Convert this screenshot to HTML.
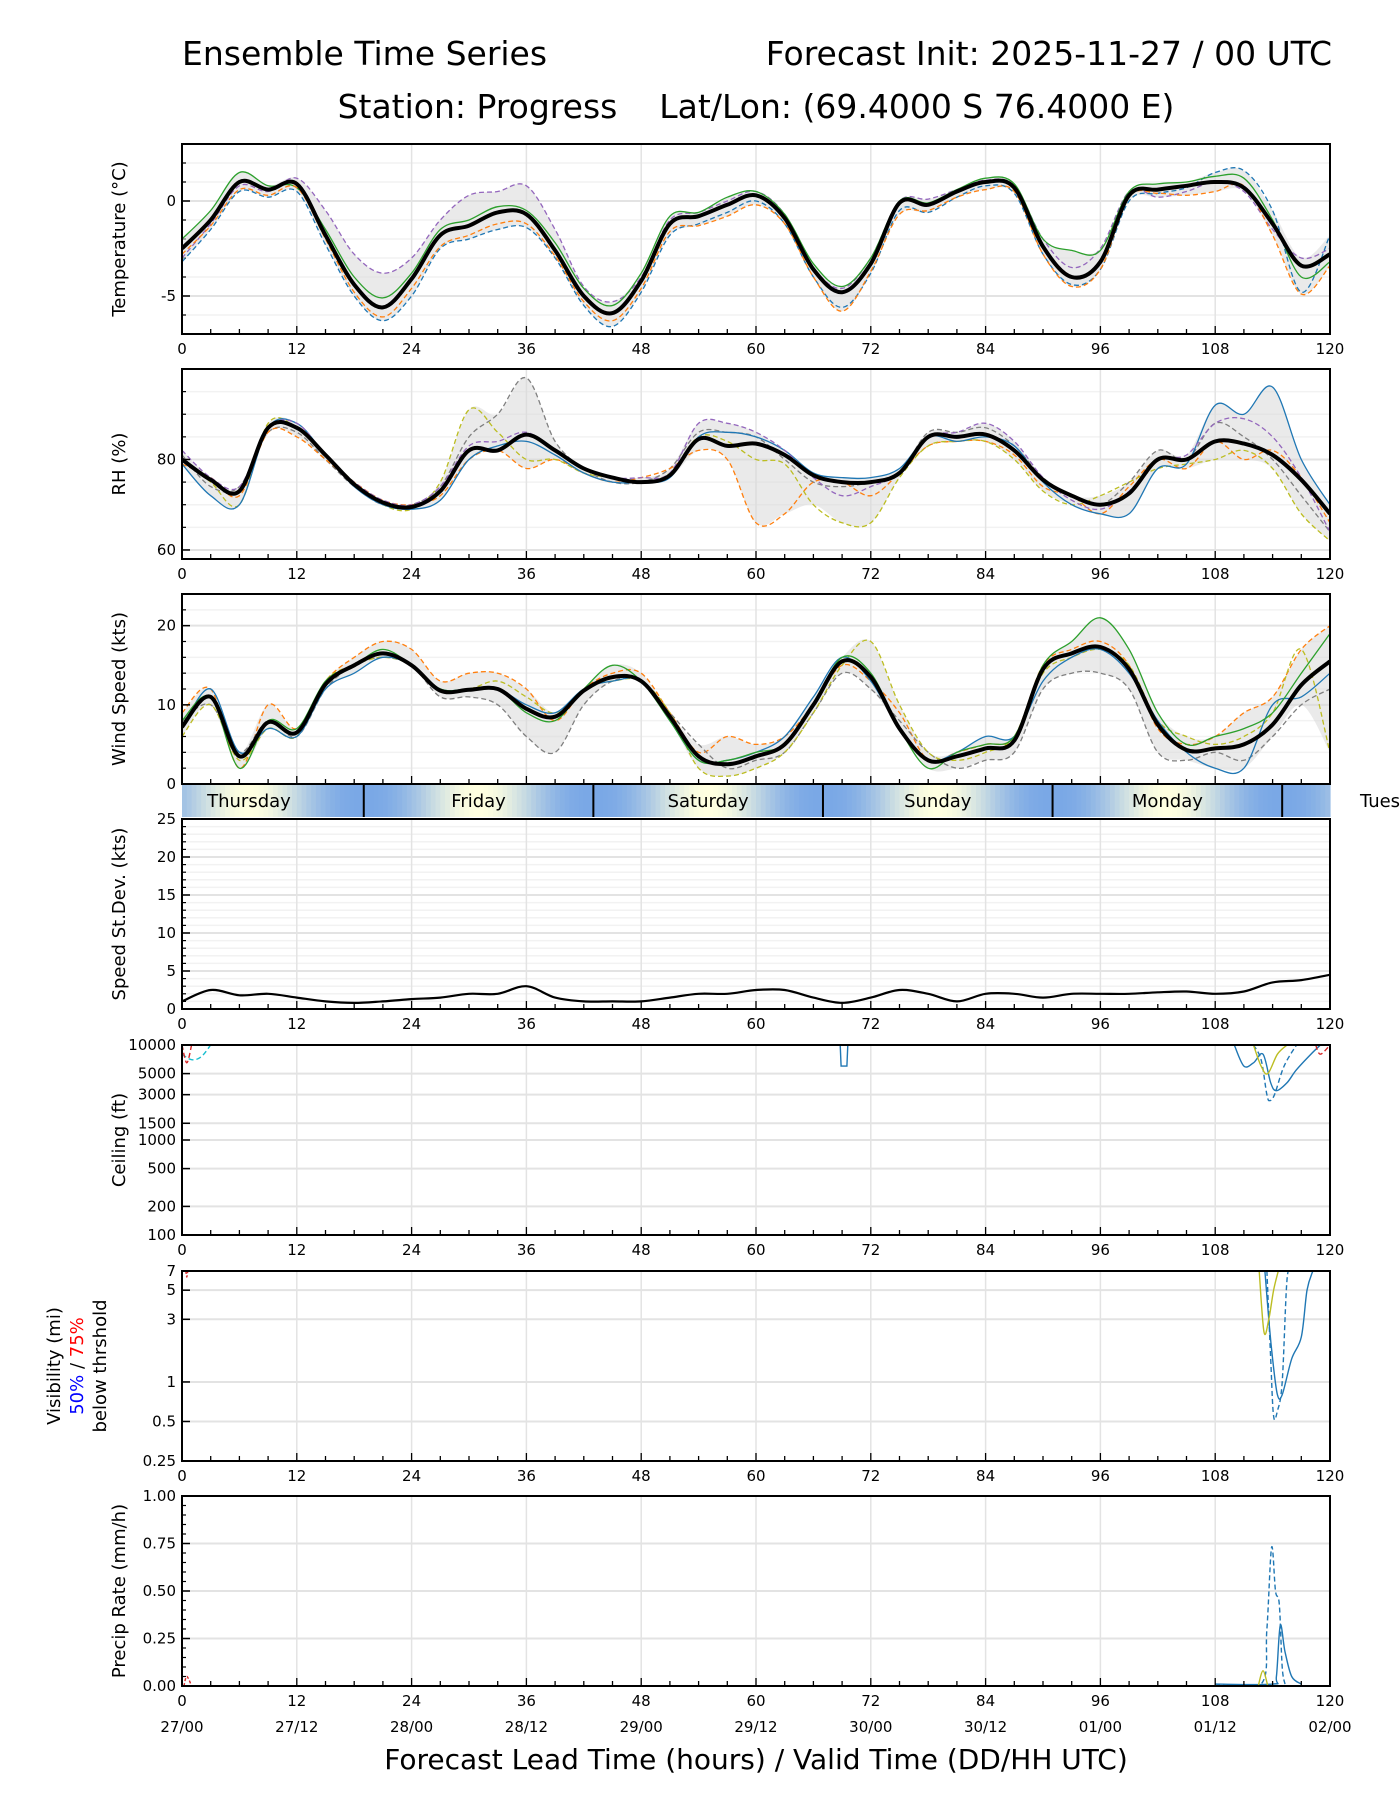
<!DOCTYPE html>
<html><head><meta charset="utf-8">
<style>
body{margin:0;background:#fff;}
svg{display:block;font-family:"DejaVu Sans","Liberation Sans",sans-serif;}
</style></head>
<body>
<svg id="fig" width="1400" height="1800" viewBox="0 0 1400 1800" xmlns="http://www.w3.org/2000/svg">
<rect x="0" y="0" width="1400" height="1800" fill="#fff"/>
<text x="182" y="65" font-size="33">Ensemble Time Series</text>
<text x="1332" y="65" font-size="33" text-anchor="end">Forecast Init: 2025-11-27 / 00 UTC</text>
<text x="756" y="118" font-size="33" text-anchor="middle" xml:space="preserve">Station: Progress    Lat/Lon: (69.4000 S 76.4000 E)</text>
<g id="plots"></g>
<text x="756" y="1769" font-size="28" text-anchor="middle">Forecast Lead Time (hours) / Valid Time (DD/HH UTC)</text>
</svg>
<script>
// ---- data ----
const hours3 = [0,3,6,9,12,15,18,21,24,27,30,33,36,39,42,45,48,51,54,57,60,63,66,69,72,75,78,81,84,87,90,93,96,99,102,105,108,111,114,117,120];
const tempMean = [-2.5,-1.0,1.0,0.6,0.9,-1.8,-4.4,-5.6,-4.1,-1.8,-1.3,-0.6,-0.7,-2.6,-5.0,-5.9,-4.2,-1.2,-0.8,-0.2,0.3,-0.9,-3.6,-4.8,-3.3,-0.1,-0.2,0.5,1.0,0.7,-2.4,-4.0,-3.2,0.3,0.6,0.8,1.0,0.7,-1.2,-3.4,-2.8];
const tempA = [-3.0,-1.2,0.8,0.5,1.2,-0.5,-2.8,-3.8,-3.0,-1.0,0.3,0.5,0.8,-1.5,-4.5,-5.3,-4.0,-1.0,-0.6,0.0,0.5,-0.7,-3.5,-4.6,-3.0,0.0,0.1,0.6,1.1,0.8,-2.0,-3.5,-2.5,0.5,0.2,0.5,1.0,0.5,-1.5,-3.0,-2.5];
const tempB = [-3.2,-1.5,0.5,0.2,0.5,-2.3,-5.0,-6.3,-5.0,-2.5,-2.0,-1.5,-1.4,-3.0,-5.5,-6.6,-4.8,-1.8,-1.2,-0.6,0.0,-1.2,-4.0,-5.6,-3.8,-0.5,-0.6,0.2,0.8,0.4,-2.8,-4.4,-3.6,0.0,0.4,0.7,1.5,1.6,-0.5,-4.8,-1.8];
const tempC = [-2.0,-0.5,1.5,0.8,0.7,-1.5,-4.0,-5.1,-3.8,-1.5,-1.0,-0.3,-0.5,-2.2,-4.6,-5.5,-3.8,-0.8,-0.6,0.2,0.5,-0.7,-3.3,-4.5,-3.0,0.0,-0.1,0.6,1.2,0.9,-2.0,-2.6,-2.6,0.5,0.9,1.0,1.3,1.2,-1.0,-4.0,-3.2];
const tempD = [-2.8,-1.3,0.6,0.3,0.7,-2.0,-4.8,-6.1,-4.6,-2.4,-1.8,-1.2,-1.2,-2.9,-5.3,-6.3,-4.6,-1.6,-1.3,-0.8,-0.2,-1.2,-4.0,-5.8,-3.7,-0.7,-0.5,0.2,0.6,0.5,-2.8,-4.5,-3.6,0.2,0.4,0.3,0.5,0.8,-1.8,-4.9,-3.4];
const rhMean = [80,75.5,73,87,87,81,74.5,70.5,69.5,73,82,82,85.5,82,78,76,75,76.5,84.5,83,83.5,81,76.5,75,75,77,85,85,85.5,82,75.5,72,70,72.5,80,80,84,83.5,81,75.5,68];
const rhA = [81,74,74,86,86,80,74,70,70,74,85,90,98,84,78,75,75,78,86,86,85,80,75,74,75,77,86,86,87,83,76,72,70,75,82,80,88,85,80,72,64];
const rhB = [79,76,72,86,85,80,75,71,70,72,80,82,78,80,77,75,76,78,82,80,66,68,75,75,72,77,83,84,84,81,74,72,68,74,80,78,84,80,82,76,66];
const rhC = [80,75,70,88,87,81,75,70,69,75,91,86,80,80,77,76,75,77,85,84,80,79,70,66,66,76,83,84,84,80,73,70,72,75,78,79,80,82,78,68,62];
const rhD = [79,72,70,87,88,81,74,70,69,71,80,83,84,81,77,75,75,76,85,86,85,82,77,76,76,78,85,84,85,83,75,70,68,68,78,79,92,90,96,80,70];
const rhE = [82,76,74,87,88,81,75,71,70,74,83,84,86,82,78,76,76,77,88,88,86,82,76,72,74,77,85,86,88,84,76,71,69,73,80,81,88,89,85,76,64];
const windMean = [7.2,11.0,3.5,7.8,6.5,12.6,15.0,16.5,15.0,11.8,11.9,12.0,9.5,8.5,11.8,13.5,13.0,8.5,3.5,2.5,3.5,5.0,10.0,15.5,13.5,7.0,3.0,3.5,4.5,5.5,14.5,16.5,17.3,14.5,7.5,4.3,4.5,5.0,7.5,12.5,15.5];
const windA = [9,12,2,10,7,13,16,18,17,13,14,14,12,8,12,14,14,9,4,6,5,6,10,15,13,9,3,4,5,6,15,17,18,15,7,5,6,9,11,17,20];
const windB = [8,10,4,8,6,12,15,16,15,11,11,10,6,4,10,13,13,9,5,2,3,4,9,14,12,8,4,2,3,4,12,14,14,12,4,3,4,3,6,10,12];
const windC = [6,10,3,7,6,13,15,16,15,12,12,13,11,9,12,13,13,9,2,1,2,4,9,15,18,10,4,3,4,6,14,16,17,15,8,6,5,6,9,17,4];
const windD = [7,12,4,7,6,12,14,16,15,12,12,12,10,9,12,13,13,8,3,3,4,6,11,16,13,7,3,4,6,6,13,16,17,14,8,4,2,2,10,11,14];
const windE = [8,11,2,8,7,13,15,17,15,12,12,12,9,8,12,15,13,8,3,3,4,5,10,16,14,7,2,4,5,6,15,18,21,17,9,5,6,7,9,14,19];
const stdevVals = [1.0,2.5,1.8,2.0,1.5,1.0,0.8,1.0,1.3,1.5,2.0,2.0,3.0,1.5,1.0,1.0,1.0,1.5,2.0,2.0,2.5,2.5,1.5,0.8,1.5,2.5,2.0,1.0,2.0,2.0,1.5,2.0,2.0,2.0,2.2,2.3,2.0,2.3,3.5,3.8,4.5];
const ceilBlue = [[110,10000],[111,6000],[112,6500],[113,8000],[113.8,4000],[114.4,3300],[115.5,4000],[116.5,5500],[118,8000],[119,10000]];
const ceilBlueDash = [[112,10000],[112.8,7000],[113.4,3000],[113.7,2600],[114.2,3000],[115.2,6000],[116.5,10000]];
const ceilOlive = [[112,10000],[112.8,6000],[113.5,5000],[114.5,8000],[115.5,10000]];
const ceilCyan = [[0,8000],[1,7000],[2,7500],[3,10000]];
const ceilRed = [[0,10000],[0.5,6500],[1,10000]];
const ceilRed2 = [[118.5,10000],[119,8000],[120,10000]];
const ceilBlue69 = [[68.8,10000],[68.9,6000],[69.5,6000],[69.6,10000]];
const visBlue = [[113.2,7],[113.6,3],[114,1.5],[114.5,0.8],[115,0.8],[116,1.5],[117,2.2],[117.6,5],[118.2,7]];
const visBlueDash = [[113.4,7],[113.8,1.5],[114.1,0.55],[114.5,0.6],[115,1.0],[115.5,6],[116,7]];
const visOlive = [[112.6,7],[113.1,2.4],[113.6,3],[114.1,5],[114.6,7]];
const visRed = [[0.4,7],[0.5,6.3],[0.6,7]];
const precipBlueDash = [[108,0.01],[112.8,0.01],[113.4,0.3],[113.9,0.73],[114.3,0.5],[114.7,0.43],[115,0.1],[115.3,0.01]];
const precipBlue = [[108,0.01],[114,0.01],[114.4,0.05],[114.8,0.32],[115.3,0.18],[116,0.05],[117,0.01]];
const precipOlive = [[112.5,0],[113,0.08],[113.5,0]];
const precipRed = [[0.2,0],[0.5,0.05],[1,0]];
const xTicks = [0,12,24,36,48,60,72,84,96,108,120];
const validLabels = ["27/00","27/12","28/00","28/12","29/00","29/12","30/00","30/12","01/00","01/12","02/00"];
const dayNames = ["Thursday","Friday","Saturday","Sunday","Monday","Tues"];
const dayCenters = [7,31,55,79,103,125];
const dayBounds = [19,43,67,91,115];

// ---- layout ----
const NS="http://www.w3.org/2000/svg";
const X0=182, X1=1330, H=190;
const g=document.getElementById('plots');
function xs(h){return X0+(h/120)*(X1-X0);}
function mk(tag,attrs,parent){const e=document.createElementNS(NS,tag);for(const k in attrs)e.setAttribute(k,attrs[k]);(parent||g).appendChild(e);return e;}
function smoothPath(pts){
  let d="M"+pts[0][0].toFixed(1)+","+pts[0][1].toFixed(1);
  for(let i=0;i<pts.length-1;i++){
    const p0=pts[Math.max(0,i-1)],p1=pts[i],p2=pts[i+1],p3=pts[Math.min(pts.length-1,i+2)];
    const c1x=p1[0]+(p2[0]-p0[0])/6,c1y=p1[1]+(p2[1]-p0[1])/6,c2x=p2[0]-(p3[0]-p1[0])/6,c2y=p2[1]-(p3[1]-p1[1])/6;
    d+=" C"+c1x.toFixed(1)+","+c1y.toFixed(1)+" "+c2x.toFixed(1)+","+c2y.toFixed(1)+" "+p2[0].toFixed(1)+","+p2[1].toFixed(1);
  }
  return d;
}
function linePath(pts){return "M"+pts.map(p=>p[0].toFixed(1)+","+p[1].toFixed(1)).join(" L");}

function panel(cfg){
  const top=cfg.top, bot=top+H;
  const ys=cfg.ys;
  const pg=mk('g',{});
  
  
  const cp=mk('clipPath',{id:'clip-'+cfg.name},pg);
  mk('rect',{x:X0,y:top,width:X1-X0,height:H},cp);
  (cfg.minorY||[]).forEach(v=>{const y=ys(v);mk('line',{x1:X0,x2:X1,y1:y,y2:y,stroke:'#f2f2f2','stroke-width':1.5},pg);
    mk('line',{x1:X0,x2:X0+4,y1:y,y2:y,stroke:'#000','stroke-width':1.2},pg);});
  (cfg.minorTicks||[]).forEach(v=>{const y=ys(v);mk('line',{x1:X0,x2:X0+4,y1:y,y2:y,stroke:'#000','stroke-width':1.2},pg);});
  xTicks.forEach(h=>mk('line',{x1:xs(h),x2:xs(h),y1:top,y2:bot,stroke:'#e3e3e3','stroke-width':1.5},pg));
  cfg.majorY.forEach(v=>{const y=ys(v);mk('line',{x1:X0,x2:X1,y1:y,y2:y,stroke:'#e3e3e3','stroke-width':2},pg);});
  const cg=mk('g',{'clip-path':'url(#clip-'+cfg.name+')'},pg);
  cfg.draw(cg,ys);
  for(let h=0;h<=120;h+=3){const L=(h%12===0)?8:5;mk('line',{x1:xs(h),x2:xs(h),y1:bot,y2:bot-L,stroke:'#000','stroke-width':1.3},pg);}
  cfg.majorY.forEach((v,i)=>{const y=ys(v);mk('line',{x1:X0,x2:X0+8,y1:y,y2:y,stroke:'#000','stroke-width':1.5},pg);
    const t=mk('text',{x:X0-6,y:y+5,'font-size':15,'text-anchor':'end'},pg);
    
    
    t.textContent=cfg.yLabels?cfg.yLabels[i]:String(v);});
  mk('rect',{x:X0,y:top,width:X1-X0,height:H,fill:'none',stroke:'#000','stroke-width':2},pg);
  if(!cfg.noXLabels){
    xTicks.forEach(h=>{const t=mk('text',{x:xs(h),y:bot+20,'font-size':15,'text-anchor':'middle'},pg);
      
      
      t.textContent=String(h);});
  }
  const lab=mk('g',{transform:'translate('+cfg.labX+','+(top+H/2)+') rotate(-90)'},pg);
  
  
  cfg.label(lab);
  return {top,bot};
}
function simpleLabel(txt){return lab=>{const t=mk('text',{x:0,y:0,'font-size':18,'text-anchor':'middle'},lab);t.textContent=txt;};}
function series(parent,vals,ys,color,dash,width,name){
  const pts=hours3.map((h,i)=>[xs(h),ys(vals[i])]);
  const p=mk('path',{d:smoothPath(pts),fill:'none',stroke:color,'stroke-width':width,'stroke-dasharray':dash||'none','stroke-linejoin':'round'},parent);
  
  
}
function band(parent,members,ys){
  const lo=hours3.map((h,i)=>Math.min(...members.map(m=>m[i])));
  const hi=hours3.map((h,i)=>Math.max(...members.map(m=>m[i])));
  const up=hours3.map((h,i)=>[xs(h),ys(hi[i])]);
  const dn=hours3.map((h,i)=>[xs(h),ys(lo[i])]).reverse();
  const p=mk('path',{d:smoothPath(up)+" L"+smoothPath(dn).slice(1)+" Z",fill:'#d8d8d8','fill-opacity':0.55,stroke:'none'},parent);
  
  
}
function ptSeries(parent,pts,ys,color,dash,name){
  const p=mk('path',{d:smoothPath(pts.map(q=>[xs(q[0]),ys(q[1])])),fill:'none',stroke:color,'stroke-width':1.4,'stroke-dasharray':dash||'none'},parent);
  
  
}
const tops=[144,369,594,819,1045,1271,1496];
const C={blue:'#1f77b4',orange:'#ff7f0e',green:'#2ca02c',red:'#d62728',purple:'#9467bd',brown:'#8c564b',pink:'#e377c2',gray:'#7f7f7f',olive:'#bcbd22',cyan:'#17becf'};
function lin(a,b,top){return v=>top+H-(v-a)/(b-a)*H;}
function rng(a,b,s){const r=[];for(let v=a;v<=b+1e-9;v+=s)r.push(+v.toFixed(3));return r;}

panel({name:'temperature',top:tops[0],ys:lin(-7,3,tops[0]),majorY:[-5,0],minorY:rng(-7,3,1),labX:125,label:simpleLabel('Temperature (°C)'),
 draw:(c,ys)=>{band(c,[tempA,tempB,tempC,tempD],ys);
  series(c,tempA,ys,C.purple,'5,3',1.3,'temp-member-a');series(c,tempB,ys,C.blue,'5,3',1.3,'temp-member-b');
  series(c,tempC,ys,C.green,'',1.3,'temp-member-c');series(c,tempD,ys,C.orange,'5,3',1.3,'temp-member-d');
  series(c,tempMean,ys,C.cyan,'',1.3,'temp-member-e');
  series(c,tempMean,ys,'#000','',4,'temp-ensemble-mean');}});
panel({name:'rh',top:tops[1],ys:lin(58,100,tops[1]),majorY:[60,80],minorY:rng(60,100,5),labX:125,label:simpleLabel('RH (%)'),
 draw:(c,ys)=>{band(c,[rhA,rhB,rhC,rhD,rhE],ys);
  series(c,rhA,ys,C.gray,'5,3',1.3,'rh-member-a');series(c,rhB,ys,C.orange,'5,3',1.3,'rh-member-b');
  series(c,rhC,ys,C.olive,'5,3',1.3,'rh-member-c');series(c,rhD,ys,C.blue,'',1.3,'rh-member-d');
  series(c,rhE,ys,C.purple,'5,3',1.3,'rh-member-e');
  series(c,rhMean,ys,'#000','',4,'rh-ensemble-mean');}});
panel({name:'wind',top:tops[2],ys:lin(0,24,tops[2]),majorY:[0,10,20],minorY:rng(0,24,2),labX:125,noXLabels:true,label:simpleLabel('Wind Speed (kts)'),
 draw:(c,ys)=>{band(c,[windA,windB,windC,windD,windE],ys);
  series(c,windA,ys,C.orange,'5,3',1.3,'wind-member-a');series(c,windB,ys,C.gray,'5,3',1.3,'wind-member-b');
  series(c,windC,ys,C.olive,'5,3',1.3,'wind-member-c');series(c,windD,ys,C.blue,'',1.3,'wind-member-d');
  series(c,windE,ys,C.green,'',1.3,'wind-member-e');
  series(c,windMean,ys,'#000','',4,'wind-ensemble-mean');}});
(function(){
  const y0=785,y1=817;
  const db=mk('g',{});
  
  
  for(let h=0;h<120;h+=0.5){
    const t=(1+Math.cos((h+0.25-7)/24*2*Math.PI))/2; const w=Math.pow(t,1.3);
    const r=Math.round(122+(255-122)*w),gg=Math.round(168+(255-168)*w),b=Math.round(230+(224-230)*w);
    mk('rect',{x:xs(h),y:y0,width:(X1-X0)/240+0.6,height:y1-y0,fill:'rgb('+r+','+gg+','+b+')'},db);
  }
  dayBounds.forEach(h=>mk('line',{x1:xs(h),x2:xs(h),y1:y0,y2:y1,stroke:'#000','stroke-width':2},db));
  dayNames.forEach((n,i)=>{const t=mk('text',{x:i<5?xs(dayCenters[i]):1380,y:y0+22,'font-size':18,'text-anchor':'middle'},db);
    
    
    t.textContent=n;});
})();
panel({name:'stdev',top:tops[3],ys:lin(0,25,tops[3]),majorY:[0,5,10,15,20,25],minorY:rng(0,25,1),labX:125,label:simpleLabel('Speed St.Dev. (kts)'),
 draw:(c,ys)=>{series(c,stdevVals,ys,'#000','',2.2,'speed-stdev-line');}});
const ceilY=top=>v=>top+H-(Math.log10(v)-2)/2*H;
panel({name:'ceiling',top:tops[4],ys:ceilY(tops[4]),majorY:[100,200,500,1000,1500,3000,5000,10000],labX:125,label:simpleLabel('Ceiling (ft)'),
 draw:(c,ys)=>{ptSeries(c,ceilBlue,ys,C.blue,'','ceiling-member-a');ptSeries(c,ceilBlueDash,ys,C.blue,'5,3','ceiling-member-b');
  ptSeries(c,ceilOlive,ys,C.olive,'','ceiling-member-c');ptSeries(c,ceilCyan,ys,C.cyan,'5,3','ceiling-member-d');
  ptSeries(c,ceilRed,ys,C.red,'5,3','ceiling-member-e');ptSeries(c,ceilRed2,ys,C.red,'5,3','ceiling-member-f');
  const p=mk('path',{d:linePath(ceilBlue69.map(q=>[xs(q[0]),ys(q[1])])),fill:'none',stroke:C.blue,'stroke-width':1.4},c);
  
  }});
const visY=top=>v=>top+H-Math.log(v/0.25)/Math.log(28)*H;
panel({name:'visibility',top:tops[5],ys:visY(tops[5]),majorY:[0.25,0.5,1,3,5,7],labX:60,
 label:lab=>{let t=mk('text',{x:0,y:0,'font-size':18,'text-anchor':'middle'},lab);t.textContent='Visibility (mi)';
  t=mk('text',{x:0,y:23,'font-size':18,'text-anchor':'middle'},lab);
  const a=mk('tspan',{fill:'#0000ff'},t);a.textContent='50%';const b=mk('tspan',{fill:'#000'},t);b.textContent=' / ';const c2=mk('tspan',{fill:'#ff0000'},t);c2.textContent='75%';
  t=mk('text',{x:0,y:46,'font-size':18,'text-anchor':'middle'},lab);t.textContent='below thrshold';},
 draw:(c,ys)=>{ptSeries(c,visBlue,ys,C.blue,'','vis-member-a');ptSeries(c,visBlueDash,ys,C.blue,'5,3','vis-member-b');
  ptSeries(c,visOlive,ys,C.olive,'','vis-member-c');ptSeries(c,visRed,ys,C.red,'3,2','vis-member-d');}});
const pr=panel({name:'precip',top:tops[6],ys:lin(0,1,tops[6]),majorY:[0,0.25,0.5,0.75,1],yLabels:['0.00','0.25','0.50','0.75','1.00'],minorTicks:rng(0,1,0.05),labX:125,label:simpleLabel('Precip Rate (mm/h)'),
 draw:(c,ys)=>{ptSeries(c,precipBlueDash,ys,C.blue,'5,3','precip-member-a');ptSeries(c,precipBlue,ys,C.blue,'','precip-member-b');
  ptSeries(c,precipOlive,ys,C.olive,'','precip-member-c');ptSeries(c,precipRed,ys,C.red,'3,2','precip-member-d');}});
xTicks.forEach((h,i)=>{const t=mk('text',{x:xs(h),y:pr.bot+46,'font-size':15,'text-anchor':'middle'});
  
  
  t.textContent=validLabels[i];});
</script>
</body></html>
